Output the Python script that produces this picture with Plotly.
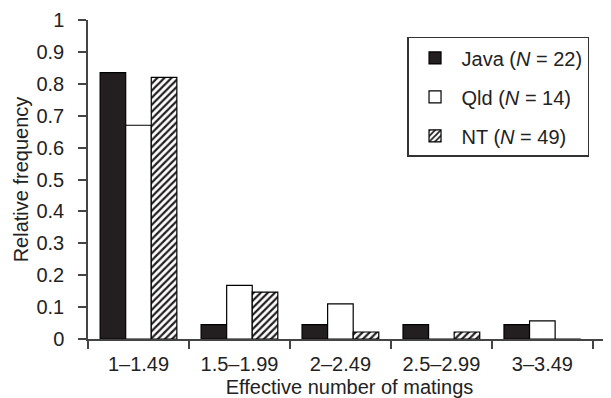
import plotly.graph_objects as go

categories = ["1–1.49", "1.5–1.99", "2–2.49", "2.5–2.99", "3–3.49"]
java_values = [0.835, 0.045, 0.045, 0.045, 0.045]
qld_values = [0.67, 0.168, 0.11, 0.0, 0.057]
nt_values = [0.82, 0.147, 0.022, 0.022, 0.0]
series_names = ["Java (<i>N</i> = 22)", "Qld (<i>N</i> = 14)", "NT (<i>N</i> = 49)"]
y_tick_values = [0, 0.1, 0.2, 0.3, 0.4, 0.5, 0.6, 0.7, 0.8, 0.9, 1]

FONT = "Liberation Sans, Arial, Helvetica, sans-serif"
INK = "#231f20"
FS = 20

fig = go.Figure()
fig.add_trace(go.Bar(
    x=categories, y=java_values, name=series_names[0], legendgroup="a",
    marker=dict(color=INK, line=dict(color="black", width=1.2)),
))
fig.add_trace(go.Bar(
    x=categories, y=qld_values, name=series_names[1], legendgroup="b",
    marker=dict(color="white", line=dict(color="black", width=1.2)),
))
fig.add_trace(go.Bar(
    x=categories, y=nt_values, name=series_names[2], legendgroup="c",
    marker=dict(color="white", line=dict(color="black", width=1.2),
                pattern=dict(shape="/", fgcolor=INK, bgcolor="white",
                             size=5, solidity=0.45, fillmode="replace")),
))

# the page body has an 8px default margin, so the figure is sized to fit
fig.update_layout(
    width=603, height=390,
    margin=dict(l=80, r=0, t=12, b=59, autoexpand=False),
    paper_bgcolor="white", plot_bgcolor="white",
    font=dict(family=FONT, size=FS, color="#222"),
    barmode="group", bargap=0.24, bargroupgap=0,
    showlegend=True,
    legend=dict(
        x=0.61, y=0.947, xanchor="left", yanchor="top",
        bordercolor="#333", borderwidth=1.5, bgcolor="white",
        font=dict(family=FONT, size=FS, color="#222"),
        tracegroupgap=10, itemwidth=43, entrywidth=176,
    ),
    xaxis=dict(
        type="category", range=[-0.5, 4.68], automargin=False,
        showline=True, linecolor="#444", linewidth=1.5,
        ticks="outside", tickson="boundaries", ticklen=8,
        tickcolor="#444", tickwidth=1.5,
        ticklabelstandoff=6,
        showgrid=False, zeroline=False,
        title=dict(text="Effective number of matings", standoff=6,
                   font=dict(size=FS)),
        tickfont=dict(size=FS),
    ),
    yaxis=dict(
        range=[0, 1], tickvals=y_tick_values, automargin=False,
        showline=True, linecolor="#444", linewidth=1.5,
        ticks="outside", ticklen=8, tickcolor="#444", tickwidth=1.5,
        ticklabelstandoff=10,
        showgrid=False, zeroline=False,
        title=dict(text="Relative frequency", standoff=2, font=dict(size=FS)),
        tickfont=dict(size=FS),
    ),
)

fig.write_html("out.html")
